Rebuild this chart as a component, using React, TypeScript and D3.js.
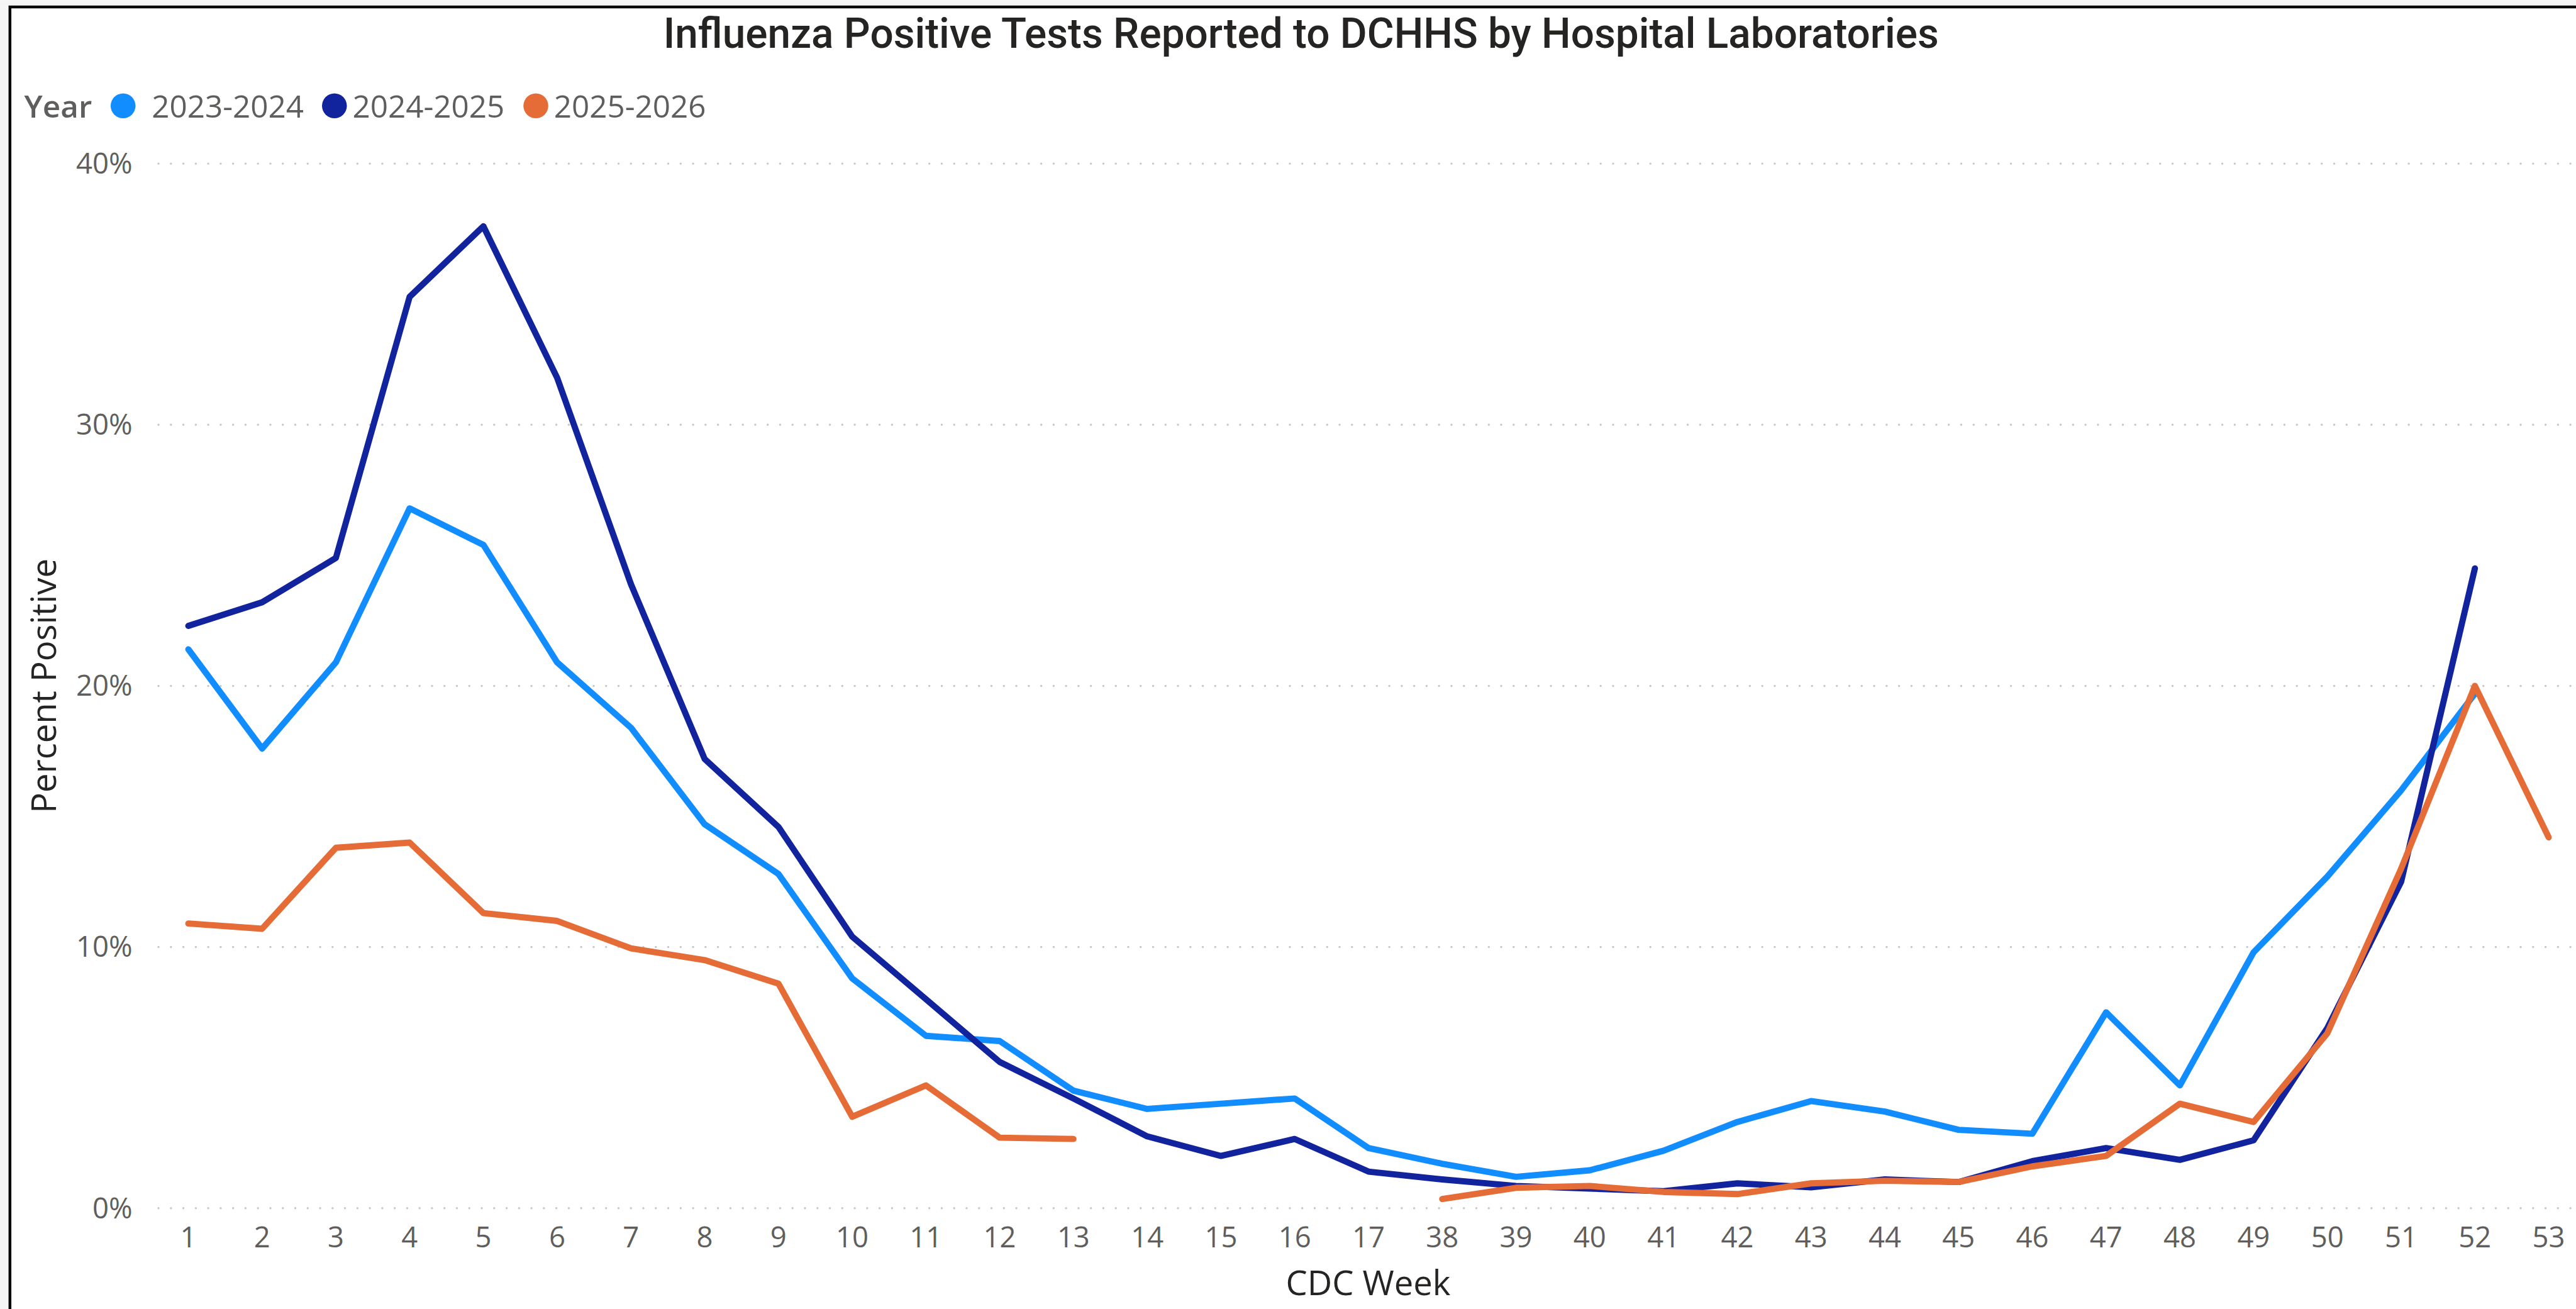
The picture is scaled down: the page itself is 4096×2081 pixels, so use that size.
import React from 'react';
import * as d3 from 'd3';

// CDC weeks shown on the x axis (weeks 18-37 are not part of the season)
const weeks = [
  '1', '2', '3', '4', '5', '6', '7', '8', '9', '10', '11', '12', '13', '14', '15', '16', '17',
  '38', '39', '40', '41', '42', '43', '44', '45', '46', '47', '48', '49', '50', '51', '52', '53',
];

const seasons = ['2023-2024', '2024-2025', '2025-2026'];
const colors = ['#118DFF', '#12239E', '#E66C37'];

// percent positive by week, null = no report
const pct2324 = [
  21.4, 17.6, 20.9, 26.8, 25.4, 20.9, 18.4, 14.7, 12.8, 8.8, 6.6, 6.4, 4.5, 3.8, 4.0, 4.2, 2.3,
  1.7, 1.2, 1.45, 2.2, 3.3, 4.1, 3.7, 3.0, 2.85, 7.5, 4.7, 9.8, 12.7, 16.0, 19.7, null,
];
const pct2425 = [
  22.3, 23.2, 24.9, 34.9, 37.6, 31.8, 23.9, 17.2, 14.6, 10.4, 8.0, 5.6, 4.2, 2.75, 2.0, 2.65, 1.4,
  1.1, 0.85, 0.75, 0.65, 0.95, 0.8, 1.1, 1.0, 1.8, 2.3, 1.85, 2.6, 6.9, 12.5, 24.5, null,
];
const pct2526 = [
  10.9, 10.7, 13.8, 14.0, 11.3, 11.0, 9.95, 9.5, 8.6, 3.5, 4.7, 2.7, 2.65, null, null, null, null,
  0.35, 0.78, 0.85, 0.62, 0.54, 0.95, 1.05, 1.0, 1.6, 2.0, 4.0, 3.3, 6.7, 13.0, 20.0, 14.2,
];

const yTicks = [0, 10, 20, 30, 40];

const W = 4144;
const H = 2105;
const font = '"Segoe UI", "Open Sans", sans-serif';

export default function App() {
  const x = d3.scalePoint<string>().domain(weeks).range([303, 4100]);
  const y = d3.scaleLinear().domain([0, 40]).range([1943, 263]);

  const series = [pct2324, pct2425, pct2526];

  const line = d3
    .line<number | null>()
    .defined((d) => d != null)
    .x((_, i) => x(weeks[i]) as number)
    .y((d) => y(d as number));

  // legend layout (label x positions as in the original visual)
  const legendDots = [198, 538, 862];
  const legendText = [244, 567, 891];

  return (
    <svg
      width={4096}
      height={2081}
      viewBox={`0 0 ${W} ${H}`}
      style={{ position: 'absolute', left: 0, top: 0 }}
    >
      <rect x={0} y={0} width={W} height={H} fill="#f5f5f5" />
      <rect x={16} y={11} width={W + 100} height={H + 100} fill="#fff" stroke="#000" strokeWidth={4.5} />

      <text
        x={2093}
        y={77}
        textAnchor="middle"
        fontFamily="Roboto, sans-serif"
        fontSize={67}
        fontWeight={500}
        fill="#252423"
        textLength={2052}
        lengthAdjust="spacingAndGlyphs"
      >
        Influenza Positive Tests Reported to DCHHS by Hospital Laboratories
      </text>

      {/* legend */}
      <g fontFamily={font} fontSize={50} fill="#605E5C">
        <text x={39} y={189} fontWeight={600}>Year</text>
        {seasons.map((s, i) => (
          <g key={s}>
            <circle cx={legendDots[i]} cy={170} r={20} fill={colors[i]} />
            <text x={legendText[i]} y={189}>{s}</text>
          </g>
        ))}
      </g>

      {/* gridlines */}
      <g>
        {yTicks.map((t) => (
          <line
            key={t}
            x1={255}
            x2={W}
            y1={y(t)}
            y2={y(t)}
            stroke="#c8c8c8"
            strokeWidth={3.5}
            strokeLinecap="round"
            strokeDasharray="0 20"
          />
        ))}
      </g>

      {/* y axis labels */}
      <g fontFamily={font} fontSize={46} fill="#605E5C" textAnchor="end">
        {yTicks.map((t) => (
          <text key={t} x={213} y={y(t)} dy="0.35em">
            {t}%
          </text>
        ))}
      </g>

      {/* x axis labels */}
      <g fontFamily={font} fontSize={46} fill="#605E5C" textAnchor="middle">
        {weeks.map((w) => (
          <text key={w} x={x(w)} y={2006}>
            {w}
          </text>
        ))}
      </g>

      <text
        transform="translate(90,1103) rotate(-90)"
        textAnchor="middle"
        fontFamily={font}
        fontSize={55}
        fill="#252423"
      >
        Percent Positive
      </text>
      <text x={2201} y={2083} textAnchor="middle" fontFamily={font} fontSize={55} fill="#252423">
        CDC Week
      </text>

      {/* lines */}
      <g fill="none" strokeWidth={10} strokeLinejoin="round" strokeLinecap="round">
        {series.map((s, i) => (
          <path key={seasons[i]} d={line(s) || ''} stroke={colors[i]} />
        ))}
      </g>
    </svg>
  );
}
